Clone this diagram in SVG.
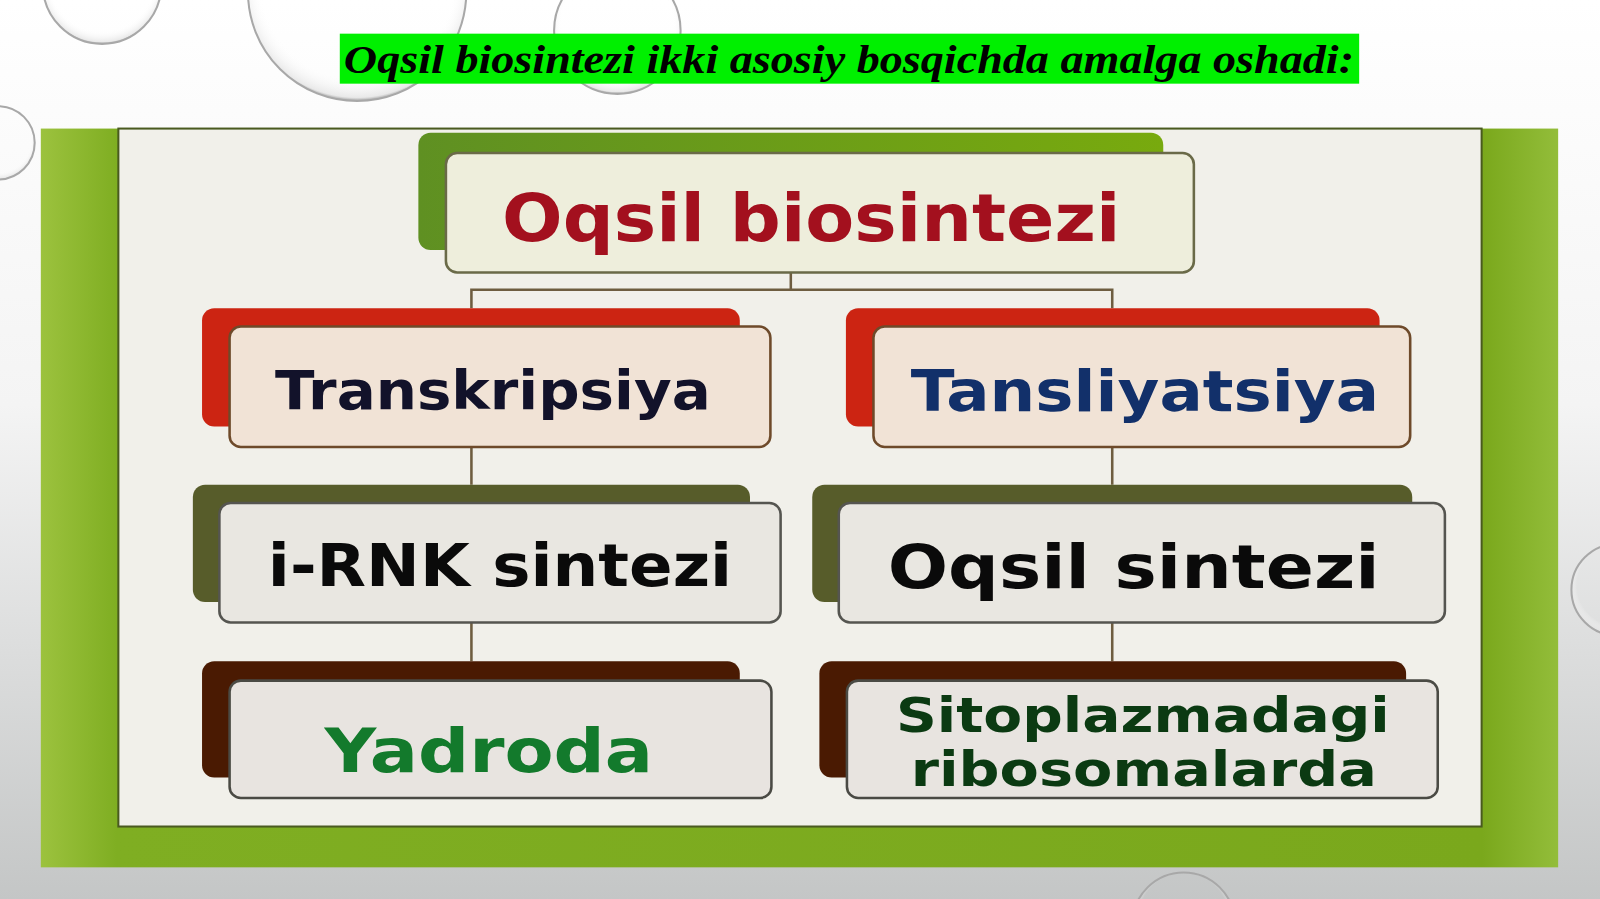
<svg xmlns="http://www.w3.org/2000/svg" width="1600" height="899" viewBox="0 0 1600 899">
<defs>
<linearGradient id="bg" x1="0" y1="0" x2="0" y2="1">
<stop offset="0" stop-color="#ffffff"/><stop offset="0.45" stop-color="#f4f4f4"/><stop offset="1" stop-color="#c4c6c6"/>
</linearGradient>
<linearGradient id="frame" x1="0" y1="0" x2="1" y2="0">
<stop offset="0" stop-color="#9cc23e"/><stop offset="0.05" stop-color="#7fae22"/><stop offset="0.95" stop-color="#7aa81c"/><stop offset="1" stop-color="#93bd3a"/>
</linearGradient>
<linearGradient id="topback" x1="0" y1="0" x2="1" y2="0">
<stop offset="0" stop-color="#5f9022"/><stop offset="1" stop-color="#78aa0e"/>
</linearGradient>
<radialGradient id="bubble" cx="0.5" cy="0.45" r="0.55">
<stop offset="0.8" stop-color="#ffffff" stop-opacity="0"/><stop offset="0.97" stop-color="#e4e4e4" stop-opacity="0.8"/><stop offset="1" stop-color="#9a9a9a"/>
</radialGradient>
<style>
.title{font-family:"Liberation Serif",serif;font-style:italic;font-weight:bold;font-size:40px;fill:#000}
.lbl{font-family:"DejaVu Sans","Liberation Sans",sans-serif;font-weight:bold;text-anchor:middle}
.front{stroke-width:2.5}
.conn{stroke:#6e5d40;stroke-width:2.5;fill:none}
.bub{fill:url(#bubble);stroke:#a8a8a8;stroke-width:2}
</style>
</defs>
<rect x="0" y="0" width="1600" height="899" fill="url(#bg)"/>
<g transform="scale(1.0204)">
<g id="bubbles">
<circle class="bub" cx="100" cy="-15" r="58"/>
<circle class="bub" cx="350" cy="-8" r="107"/>
<circle class="bub" cx="605" cy="30" r="62"/>
<circle class="bub" cx="-2" cy="140" r="36"/>
<circle class="bub" cx="1585" cy="578" r="45"/>
<circle class="bub" cx="1160" cy="905" r="50"/>
</g>
<rect x="40" y="126" width="1487" height="724" fill="url(#frame)"/>
<rect x="116" y="126" width="1336" height="684" fill="#f1f0ea" stroke="#4a5a20" stroke-width="2"/>
<g id="title">
<rect x="333" y="33" width="999" height="49" fill="#00f000"/>
<text class="title" x="832" y="72" text-anchor="middle" textLength="990" lengthAdjust="spacingAndGlyphs">Oqsil biosintezi ikki asosiy bosqichda amalga oshadi:</text>
</g>
<g id="connectors">
<path class="conn" d="M775 267 V284 M462 302 V284 H1090 V302"/>
<path class="conn" d="M462 438 V475 M1090 438 V475"/>
<path class="conn" d="M462 610 V648 M1090 610 V648"/>
</g>
<g id="node-root">
<rect x="410" y="130" width="730" height="115" rx="12" fill="url(#topback)"/>
<rect class="front" x="437" y="150" width="733" height="117" rx="11" fill="#eeeedc" stroke="#6a6a48"/>
<text class="lbl" x="795" y="236" font-size="64" fill="#a3101e" textLength="606" lengthAdjust="spacingAndGlyphs">Oqsil biosintezi</text>
</g>
<g id="node-transkripsiya">
<rect x="198" y="302" width="527" height="116" rx="12" fill="#cc2412"/>
<rect class="front" x="225" y="320" width="530" height="118" rx="11" fill="#f1e3d6" stroke="#6e4a2a"/>
<text class="lbl" x="483" y="401" font-size="53" fill="#12122a" textLength="427" lengthAdjust="spacingAndGlyphs">Transkripsiya</text>
</g>
<g id="node-tansliyatsiya">
<rect x="829" y="302" width="523" height="116" rx="12" fill="#cc2412"/>
<rect class="front" x="856" y="320" width="526" height="118" rx="11" fill="#f1e3d6" stroke="#6e4a2a"/>
<text class="lbl" x="1122" y="403" font-size="55" fill="#12306a" textLength="459" lengthAdjust="spacingAndGlyphs">Tansliyatsiya</text>
</g>
<g id="node-irnk">
<rect x="189" y="475" width="546" height="115" rx="12" fill="#575c2a"/>
<rect class="front" x="215" y="493" width="550" height="117" rx="11" fill="#e9e7e1" stroke="#555550"/>
<text class="lbl" x="490" y="574" font-size="57" fill="#0a0a0a" textLength="455" lengthAdjust="spacingAndGlyphs">i-RNK sintezi</text>
</g>
<g id="node-oqsil-sintezi">
<rect x="796" y="475" width="588" height="115" rx="12" fill="#575c2a"/>
<rect class="front" x="822" y="493" width="594" height="117" rx="11" fill="#e9e7e1" stroke="#555550"/>
<text class="lbl" x="1111" y="576" font-size="59" fill="#0a0a0a" textLength="482" lengthAdjust="spacingAndGlyphs">Oqsil sintezi</text>
</g>
<g id="node-yadroda">
<rect x="198" y="648" width="527" height="114" rx="12" fill="#4a1a02"/>
<rect class="front" x="225" y="667" width="531" height="115" rx="11" fill="#e8e4e0" stroke="#4a4a44"/>
<text class="lbl" x="479" y="757" font-size="60" fill="#137a2c" textLength="322" lengthAdjust="spacingAndGlyphs">Yadroda</text>
</g>
<g id="node-sitoplazma">
<rect x="803" y="648" width="575" height="114" rx="12" fill="#4a1a02"/>
<rect class="front" x="830" y="667" width="579" height="115" rx="11" fill="#e8e4e0" stroke="#4a4a44"/>
<text class="lbl" x="1120" y="717" font-size="47" fill="#0b3a12" textLength="484" lengthAdjust="spacingAndGlyphs">Sitoplazmadagi</text>
<text class="lbl" x="1121" y="770" font-size="47" fill="#0b3a12" textLength="457" lengthAdjust="spacingAndGlyphs">ribosomalarda</text>
</g>
</g>
</svg>
